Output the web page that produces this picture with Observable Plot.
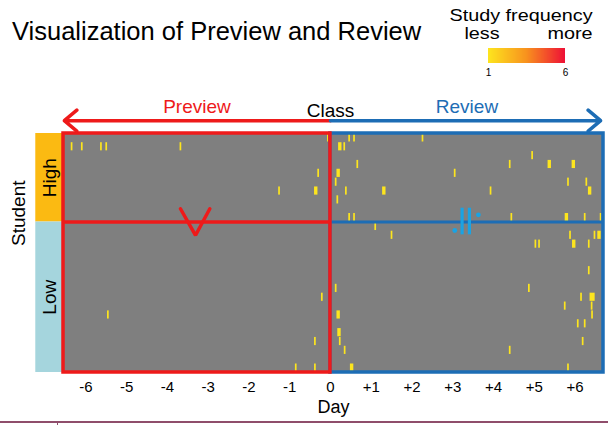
<!DOCTYPE html>
<html><head><meta charset="utf-8">
<script src="https://cdn.jsdelivr.net/npm/d3@7"></script>
<script src="https://cdn.jsdelivr.net/npm/@observablehq/plot@0.6"></script>
<style>
body{margin:0;background:#fff;font-family:"Liberation Sans",Arial,sans-serif;}
#wrap{position:relative;width:608px;height:425px;overflow:hidden;background:#fff;}
#header{position:relative;width:608px;height:80px;}
.t{position:absolute;white-space:nowrap;line-height:1;color:#000;}
#title{left:12px;top:19px;font-size:25.5px;}
.lg{font-size:16.5px;transform:translateX(-50%) scaleX(1.2);}
#lgTitle{left:521px;top:7px;}
#lgLess{left:482px;top:25px;}
#lgMore{left:570px;top:25px;}
#lgRamp{position:absolute;left:480px;top:48px;}
#chart{position:absolute;left:0;top:80px;}
#rule{position:absolute;left:0;top:421px;width:608px;height:1.5px;background:#8f4d6b;}
#ruleTick{position:absolute;left:57px;top:421px;width:1px;height:4px;background:#8f4d6b;}
</style></head><body>
<div id="wrap">
  <div id="header">
    <div class="t" id="title">Visualization of Preview and Review</div>
    <div class="t lg" id="lgTitle">Study frequency</div>
    <div class="t lg" id="lgLess">less</div>
    <div class="t lg" id="lgMore">more</div>
    <div id="lgRamp"></div>
  </div>
  <div id="chart"></div>
  <div id="rule"></div><div id="ruleTick"></div>
</div>
<script>
// ---------- data ----------
const nStudents = 27;
const groupNames = ["High", "Low"];
const groupStart = [0, 10];
const groupEnd = [10, 27];
const dayTicks = [-6, -5, -4, -3, -2, -1, 0, 1, 2, 3, 4, 5, 6];
const phaseNames = ["Preview", "Class", "Review"];
const freqDomain = [1, 3.5, 6];
const freqLegendTicks = [1, 6];

// study sessions: student row, day offset from class, length in hours, frequency
const sessionStudent = [
  0,0,0,0,
  1,1,1,1,1,1,1,
  2,
  3,3,3,3,
  4,4,4,
  5,5,5,
  6,6,6,6,6,6,
  7,
  9,9,9,9,9,9,
  10,
  11,11,11,11,
  12,12,12,12,
  15,
  17,17,
  18,18,18,
  19,19,
  20,20,20,
  21,21,
  22,
  23,23,23,
  24,24,
  26,26,26,26
];
const sessionDay = [
  -0.07,0.45,0.57,2.25,
  -6.36,-6.11,-5.64,-5.51,-3.69,0.20,0.33,
  4.94,
  0.65,4.39,5.34,5.93,
  -0.31,0.16,3.04,
  0.12,5.82,6.27,
  -1.27,-0.39,0.37,1.28,3.92,6.33,
  0.16,
  0.45,0.57,4.43,5.76,6.23,6.62,
  1.09,
  1.49,5.87,6.47,6.56,
  5.02,5.11,5.94,6.33,
  6.33,
  0.12,4.86,
  -0.22,6.14,6.37,
  5.74,6.40,
  -5.47,0.16,6.41,
  6.06,6.23,
  0.18,
  -0.39,0.22,6.18,
  0.34,4.39,
  -0.86,-0.39,0.49,5.82
];
const sessionHours = [
  1,1,1,1,
  1,1,1,1,1,2,1,
  1,
  1,1,2,2,
  1,2,1,
  1,1,1,
  1,2,1,2,1,2,
  1,
  1,1,1,2,1,1,
  1,
  1,1,1,2,
  1,1,2,1,
  1,
  1,1,
  1,1,3,
  1,1,
  1,2,1,
  1,1,
  2,
  1,1,1,
  1,1,
  1,1,2,1
];
const sessionFreq = sessionStudent.map(() => 1);

// ---------- styling ----------
const xDomain = [-6.55, 6.7];
const red = "#ee1a1a";
const blue = "#1d6db5";
const lightBlue = "#1aa3e3";
const freqColors = ["#fde51e", "#f8921e", "#ee1136"];
const groupColors = ["#fbba12", "#a5d5dd"];
const bandX = [-7.23, -6.57];

const sessions = sessionStudent.map((s, i) => ({
  student: s, day: sessionDay[i], hours: sessionHours[i], freq: sessionFreq[i]
}));
const groups = groupNames.map((g, i) => ({name: g, start: groupStart[i], end: groupEnd[i], color: groupColors[i]}));
const phases = [
  {name: phaseNames[0], x: xDomain[0] / 2, y: -2.95, color: red},
  {name: phaseNames[1], x: 0, y: -2.6, color: "#000"},
  {name: phaseNames[2], x: xDomain[1] / 2, y: -2.95, color: blue}
];
const arrows = [
  {x1: 0, x2: xDomain[0] + 0.02, y: -1.45, color: red},
  {x1: 0, x2: xDomain[1] - 0.07, y: -1.45, color: blue}
];
// annotations: rotated ">" in preview, rotated "≒" in review
const vMark = [{x: -3.68, y: 8.5}, {x: -3.31, y: 11.5}, {x: -2.96, y: 8.5}];
const eqBars = [{x: 3.23, y1: 8.44, y2: 11.45}, {x: 3.41, y1: 8.44, y2: 11.45}];
const eqDots = [{x: 3.05, y: 10.96}, {x: 3.63, y: 9.19}];

const font = "Liberation Sans, Arial, sans-serif";

const marks = [];
groups.forEach(g => {
  marks.push(Plot.rect([g], {x1: () => bandX[0], x2: () => bandX[1], y1: "start", y2: "end", fill: g.color}));
  marks.push(Plot.text([g], {x: () => (bandX[0] + bandX[1]) / 2 + 0.02, y: d => (d.start + d.end) / 2, text: "name", rotate: -90, fontSize: 19, fill: "#000"}));
});
marks.push(Plot.frame({fill: "#7f7f7f", stroke: null}));
marks.push(Plot.rect(sessions, {
  x1: "day", x2: d => d.day + d.hours / 24,
  y1: "student", y2: d => d.student + 1,
  insetTop: 0.35, insetBottom: 0.35,
  fill: "freq"
}));
// review box
marks.push(Plot.rect([0], {x1: () => 0, x2: () => xDomain[1], y1: () => 0, y2: () => nStudents, fill: "none", stroke: blue, strokeWidth: 3.5}));
marks.push(Plot.ruleY([groupEnd[0]], {x1: 0, x2: xDomain[1], stroke: blue, strokeWidth: 3}));
// preview box
marks.push(Plot.rect([0], {x1: () => xDomain[0], x2: () => 0, y1: () => 0, y2: () => nStudents, fill: "none", stroke: red, strokeWidth: 3.5}));
marks.push(Plot.ruleY([groupEnd[0]], {x1: xDomain[0], x2: 0, stroke: red, strokeWidth: 3.5}));
// annotations
marks.push(Plot.line(vMark, {x: "x", y: "y", stroke: red, strokeWidth: 3.5, strokeLinejoin: "miter"}));
marks.push(Plot.ruleX(eqBars, {x: "x", y1: "y1", y2: "y2", stroke: lightBlue, strokeWidth: 3.2}));
marks.push(Plot.dot(eqDots, {x: "x", y: "y", r: 2.4, fill: lightBlue, stroke: null}));
// arrows
marks.push(Plot.arrow(arrows, {x1: "x1", x2: "x2", y1: "y", y2: "y", stroke: d => d.color, strokeWidth: 3.5, headLength: 7, headAngle: 80}));
marks.push(Plot.text(phases, {x: "x", y: "y", text: "name", fill: d => d.color, fontSize: 19}));
marks.push(Plot.text(["Student"], {frameAnchor: "left", dx: -45, dy: -7, text: d => d, rotate: -90, fontSize: 19, fill: "#000"}));
marks.push(Plot.text(["Day"], {frameAnchor: "bottom", dy: 40, text: d => d, fontSize: 18, fill: "#000"}));

const chart = Plot.plot({
  width: 608, height: 345,
  marginTop: 53, marginBottom: 53, marginLeft: 63, marginRight: 5,
  style: {fontFamily: font, fontSize: "15px", color: "#000", background: "transparent", overflow: "visible"},
  x: {domain: xDomain, ticks: dayTicks, tickFormat: d => d > 0 ? "+" + d : String(d), tickSize: 0, tickPadding: 9, label: null},
  y: {domain: [0, nStudents], reverse: true, axis: null},
  color: {type: "linear", domain: freqDomain, range: freqColors},
  marks
});
document.getElementById("chart").appendChild(chart);

const leg = Plot.legend({
  color: {type: "linear", domain: freqDomain, range: freqColors},
  label: null, width: 93, height: 30,
  marginTop: 0, marginBottom: 15, marginLeft: 8, marginRight: 8,
  ticks: freqLegendTicks, tickSize: 2.5, tickFormat: d => String(d),
  style: {fontFamily: font, fontSize: "10px", color: "#000", background: "transparent", overflow: "visible"}
});
leg.querySelectorAll(".tick line").forEach(l => l.remove());
document.getElementById("lgRamp").appendChild(leg);
</script>
</body></html>
